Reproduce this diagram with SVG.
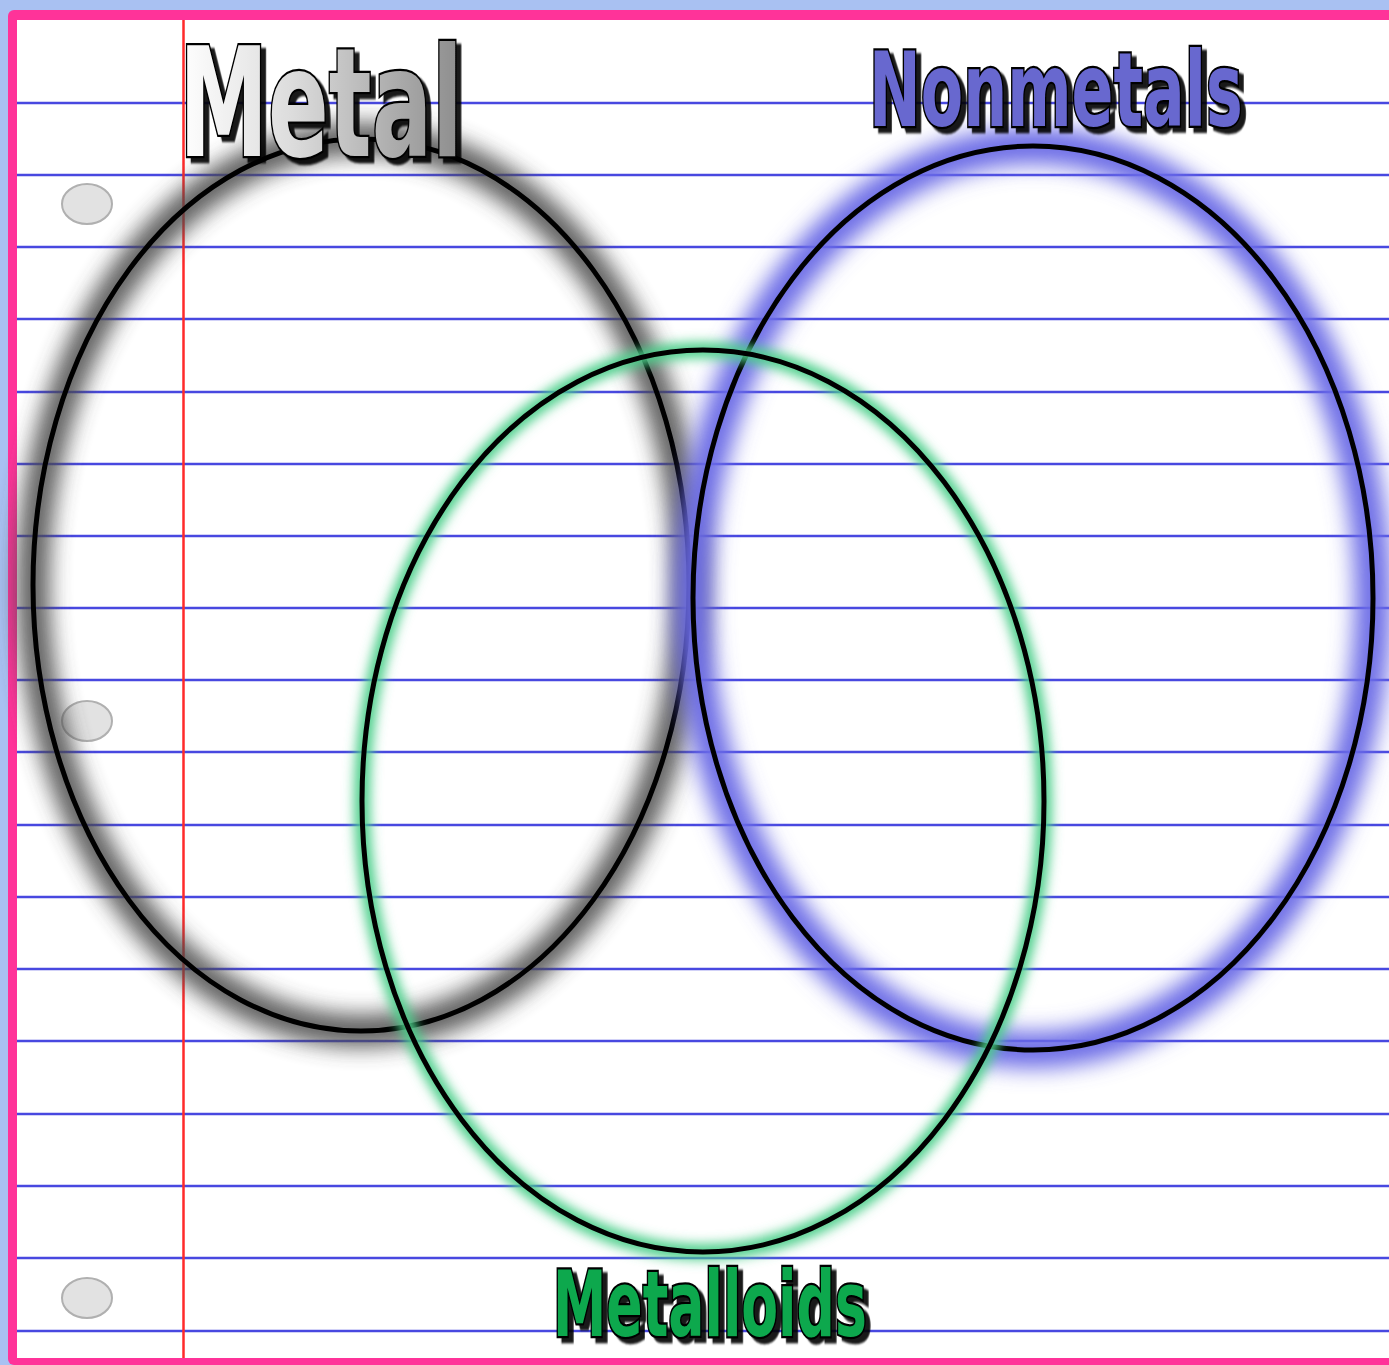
<svg xmlns="http://www.w3.org/2000/svg" width="1389" height="1365" viewBox="0 0 1389 1365">
<defs>
<style>
.rule{stroke:#4848e0;stroke-width:2.5}
.hole{fill:#e2e2e2;stroke:#b0b0b0;stroke-width:2}
.ring{fill:none;stroke:#000;stroke-width:5}
.lbl{font-family:"DejaVu Sans",sans-serif;font-weight:bold;stroke:#000;stroke-width:4.5;paint-order:stroke;filter:url(#sh)}
</style>
<filter id="glow" x="-20%" y="-20%" width="140%" height="140%"><feGaussianBlur stdDeviation="11"/></filter>
<filter id="glow2" x="-20%" y="-20%" width="140%" height="140%"><feGaussianBlur stdDeviation="6"/></filter>
<filter id="sh" x="-5%" y="-20%" width="115%" height="150%"><feDropShadow dx="8" dy="5" stdDeviation="0.8" flood-color="#000" flood-opacity="0.9"/></filter>
<linearGradient id="metalG" x1="0" y1="0" x2="1" y2="0"><stop offset="0" stop-color="#ffffff"/><stop offset="0.4" stop-color="#dcdcdc"/><stop offset="1" stop-color="#8c8c8c"/></linearGradient>
</defs>
<rect x="0" y="0" width="1389" height="1365" fill="#a9c1f2"/>
<rect x="8" y="10" width="1400" height="1355" rx="6" fill="#ff3399"/>
<rect x="17" y="20" width="1380" height="1338" fill="#ffffff"/>
<g id="paper">
<line class="rule" x1="17" y1="103" x2="1389" y2="103"/>
<line class="rule" x1="17" y1="175" x2="1389" y2="175"/>
<line class="rule" x1="17" y1="247" x2="1389" y2="247"/>
<line class="rule" x1="17" y1="319" x2="1389" y2="319"/>
<line class="rule" x1="17" y1="392" x2="1389" y2="392"/>
<line class="rule" x1="17" y1="464" x2="1389" y2="464"/>
<line class="rule" x1="17" y1="536" x2="1389" y2="536"/>
<line class="rule" x1="17" y1="608" x2="1389" y2="608"/>
<line class="rule" x1="17" y1="680" x2="1389" y2="680"/>
<line class="rule" x1="17" y1="752" x2="1389" y2="752"/>
<line class="rule" x1="17" y1="825" x2="1389" y2="825"/>
<line class="rule" x1="17" y1="897" x2="1389" y2="897"/>
<line class="rule" x1="17" y1="969" x2="1389" y2="969"/>
<line class="rule" x1="17" y1="1041" x2="1389" y2="1041"/>
<line class="rule" x1="17" y1="1114" x2="1389" y2="1114"/>
<line class="rule" x1="17" y1="1186" x2="1389" y2="1186"/>
<line class="rule" x1="17" y1="1258" x2="1389" y2="1258"/>
<line class="rule" x1="17" y1="1331" x2="1389" y2="1331"/>
<line x1="183.5" y1="20" x2="183.5" y2="1358" stroke="#ff2a2a" stroke-width="2.5"/>
<ellipse class="hole" cx="87" cy="204" rx="25" ry="20"/>
<ellipse class="hole" cx="87" cy="721" rx="25" ry="20"/>
<ellipse class="hole" cx="87" cy="1298" rx="25" ry="20"/>
</g>
<g id="metal">
<ellipse cx="361" cy="585" rx="328" ry="446" fill="none" stroke="#4a4a4a" stroke-width="32" filter="url(#glow)" opacity="0.9"/>
<ellipse class="ring" cx="361" cy="585" rx="328" ry="446"/>
</g>
<g id="nonmetals">
<ellipse cx="1033" cy="598" rx="340" ry="452" fill="none" stroke="#6a6ae6" stroke-width="36" filter="url(#glow)"/>
<ellipse class="ring" cx="1033" cy="598" rx="340" ry="452"/>
</g>
<g id="metalloids">
<ellipse cx="703" cy="801" rx="341" ry="451" fill="none" stroke="#4ccf8a" stroke-width="16" filter="url(#glow2)"/>
<ellipse class="ring" cx="703" cy="801" rx="341" ry="451"/>
</g>
<g id="labels">
<text class="lbl" transform="translate(179 156) scale(0.6 1)" x="0" y="0" font-size="152" fill="url(#metalG)" textLength="473" lengthAdjust="spacingAndGlyphs">Metal</text>
<text class="lbl" transform="translate(869 126) scale(0.6 1)" x="0" y="0" font-size="104" fill="#6767cf" textLength="623" lengthAdjust="spacingAndGlyphs">Nonmetals</text>
<text class="lbl" transform="translate(553 1336) scale(0.6 1)" x="0" y="0" font-size="90" fill="#0aa84e" textLength="523" lengthAdjust="spacingAndGlyphs">Metalloids</text>
</g>
<g id="connectors"/>
</svg>
